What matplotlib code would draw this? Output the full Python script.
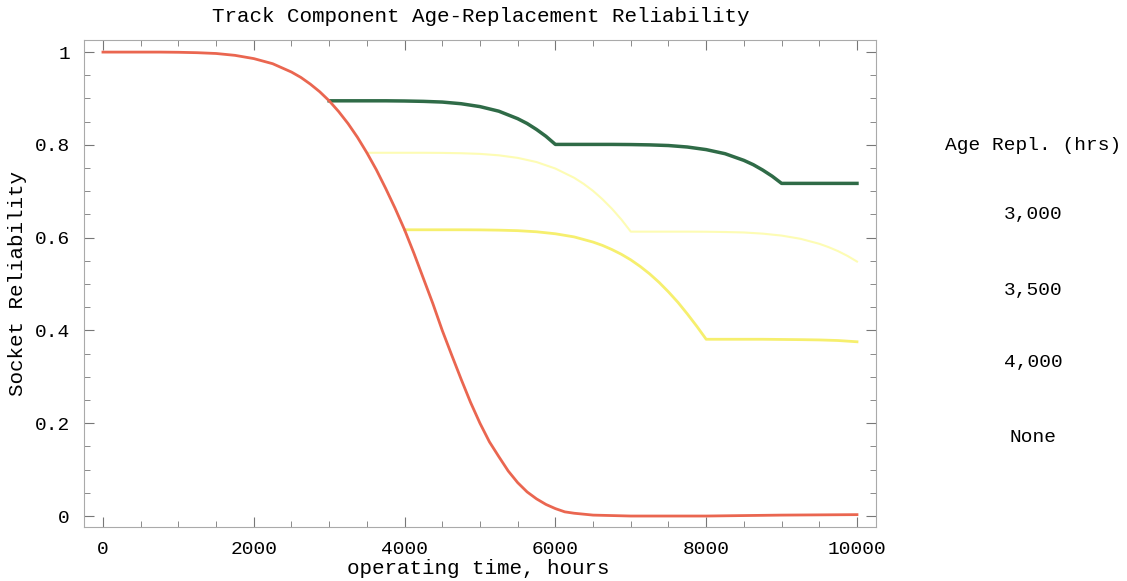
import numpy as np
import matplotlib
matplotlib.use('Agg')
import matplotlib.pyplot as plt
from matplotlib.ticker import MultipleLocator

# 数据
t_none = [0, 250, 500, 750, 1000, 1250, 1500, 1750, 2000, 2250, 2500, 2625, 2750, 2875,
          3000, 3125, 3250, 3375, 3500, 3625, 3750, 3875, 4000, 4125, 4250, 4375, 4500,
          4625, 4750, 4875, 5000, 5125, 5250, 5375, 5500, 5625, 5750, 5875, 6000, 6125,
          6250, 6375, 6500, 6750, 7000, 8000, 9000, 10000]
r_none = [1.0, 1.0, 1.0, 1.0, 0.9996, 0.9987, 0.997, 0.993, 0.986, 0.975, 0.957, 0.9454, 0.931, 0.9145,
          0.895, 0.872, 0.846, 0.8164, 0.783, 0.7466, 0.706, 0.6631, 0.617, 0.566, 0.512, 0.458, 0.400,
          0.347, 0.295, 0.245, 0.200, 0.160, 0.128, 0.097, 0.072, 0.052, 0.037, 0.025, 0.016, 0.009,
          0.006, 0.004, 0.002, 0.001, 0.0, 0.0, 0.002, 0.003]

t_3000 = [3000, 3500, 3750, 4000, 4250, 4500, 4750, 5000, 5250, 5500, 5625, 5750, 5875, 6000,
          6750, 7000, 7250, 7500, 7750, 8000, 8250, 8500, 8625, 8750, 8875, 9000, 10000]
r_3000 = [0.895, 0.895, 0.895, 0.8946, 0.8938, 0.8923, 0.8887, 0.8825, 0.8726, 0.8565, 0.8461, 0.8332, 0.8185, 0.801,
          0.801, 0.8007, 0.800, 0.7986, 0.7954, 0.7898, 0.781, 0.7666, 0.7573, 0.7457, 0.7325, 0.717, 0.717]

t_3500 = [3500, 4250, 4500, 4750, 5000, 5250, 5500, 5750, 6000, 6250, 6375, 6500, 6625, 6750, 6875, 7000,
          7750, 8000, 8250, 8500, 8750, 9000, 9250, 9500, 9625, 9750, 9875, 10000]
r_3500 = [0.783, 0.783, 0.7827, 0.782, 0.7806, 0.7775, 0.772, 0.763, 0.749, 0.729, 0.716, 0.7008, 0.6828, 0.6624,
          0.6392, 0.613, 0.613, 0.6128, 0.6122, 0.6112, 0.6087, 0.6045, 0.5976, 0.5868, 0.5795, 0.5709, 0.5606, 0.5485]

t_4000 = [4000, 4750, 5000, 5250, 5500, 5750, 6000, 6250, 6500, 6625, 6750, 6875, 7000, 7125, 7250, 7375,
          7500, 7625, 7750, 7875, 8000, 8750, 9000, 9250, 9500, 9750, 10000]
r_4000 = [0.617, 0.617, 0.6168, 0.6162, 0.6151, 0.6127, 0.6084, 0.6016, 0.5905, 0.5833, 0.5744, 0.5642, 0.5522,
          0.538, 0.522, 0.5037, 0.4831, 0.4607, 0.4356, 0.4091, 0.381, 0.381, 0.3806, 0.3802, 0.3796, 0.3783, 0.3756]

legend_title = 'Age Repl. (hrs)'
legend_labels = ['3,000', '3,500', '4,000', 'None']

plt.rcParams['font.family'] = ['Liberation Mono', 'DejaVu Sans Mono']

fig = plt.figure(figsize=(11.27, 5.81), dpi=100)
ax = fig.add_axes([0.0745, 0.0929, 0.7025, 0.8382])

ax.plot(t_4000, r_4000, color='#f6ef6e', lw=2.0)
ax.plot(t_3500, r_3500, color='#fdfcb4', lw=1.5)
ax.plot(t_3000, r_3000, color='#2f6b47', lw=2.5)
ax.plot(t_none, r_none, color='#ea6650', lw=2.0)

ax.set_xlim(-252, 10248)
ax.set_ylim(-0.0237, 1.026)
ax.xaxis.set_major_locator(MultipleLocator(2000))
ax.xaxis.set_minor_locator(MultipleLocator(500))
ax.yaxis.set_minor_locator(MultipleLocator(0.05))
ax.set_yticks([0, 0.2, 0.4, 0.6, 0.8, 1])
ax.set_yticklabels(['0', '0.2', '0.4', '0.6', '0.8', '1'])
ax.tick_params(which='both', direction='in', top=True, right=True, color='#777777', labelsize=14)
ax.tick_params(which='major', length=7, width=0.8)
ax.tick_params(which='minor', length=4, width=0.6)
ax.tick_params(axis='x', pad=10)
ax.tick_params(axis='y', pad=10)
for s in ax.spines.values():
    s.set_color('#aaaaaa')
    s.set_linewidth(0.8)

fig.text(478 / 1127, 1 - 569 / 581, 'operating time, hours', fontsize=15, ha='center', va='center')
fig.text(18 / 1127, 1 - 284 / 581, 'Socket Reliability', fontsize=15, ha='center', va='center',
         rotation=90)
fig.text(0.427, 1 - 17 / 581, 'Track Component Age-Replacement Reliability',
         fontsize=15, ha='center', va='center')

fig.text(1033 / 1127, 1 - 145 / 581, legend_title, fontsize=14, ha='center', va='center')
for i, lab in enumerate(legend_labels):
    y = [215, 290, 362, 438][i]
    fig.text(1033 / 1127, 1 - y / 581, lab, fontsize=14, ha='center', va='center')

fig.savefig('out.png', dpi=100)
